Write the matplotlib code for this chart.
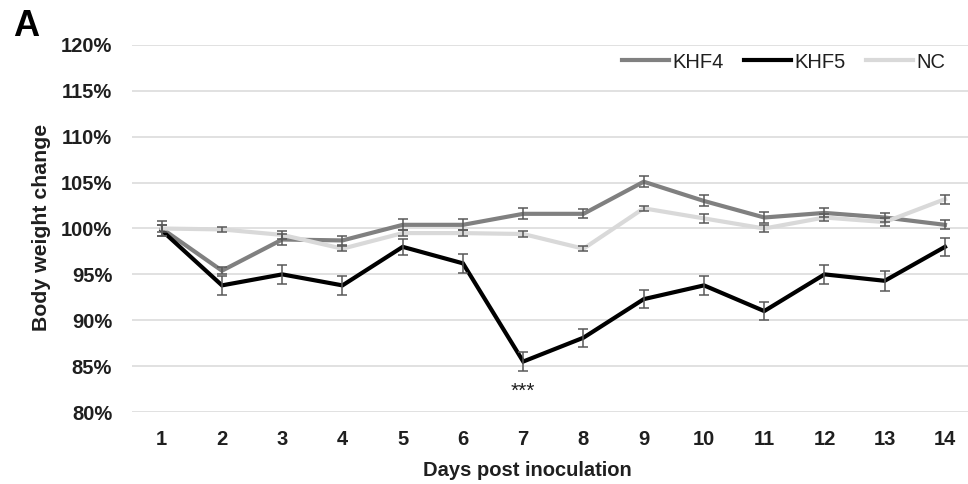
import matplotlib
matplotlib.use("Agg")
import matplotlib.pyplot as plt
import numpy as np

plt.rcParams['font.family'] = ['Liberation Sans', 'DejaVu Sans']

days = list(range(1, 15))
day_labels = [str(d) for d in days]
khf4 = [100.0, 95.4, 98.8, 98.7, 100.4, 100.4, 101.6, 101.6, 105.1, 103.0, 101.2, 101.7, 101.2, 100.4]
khf4_err = [0.8, 0.4, 0.6, 0.5, 0.6, 0.6, 0.6, 0.5, 0.6, 0.6, 0.6, 0.5, 0.5, 0.5]
khf5 = [99.8, 93.8, 95.0, 93.8, 98.0, 96.2, 85.5, 88.1, 92.3, 93.8, 91.0, 95.0, 94.3, 98.0]
khf5_err = [0.6, 1.0, 1.0, 1.0, 0.9, 1.0, 1.0, 1.0, 1.0, 1.0, 1.0, 1.0, 1.1, 1.0]
nc = [100.0, 99.9, 99.3, 97.8, 99.5, 99.5, 99.4, 97.8, 102.2, 101.1, 100.0, 101.2, 100.7, 103.2]
nc_err = [0.4, 0.3, 0.4, 0.3, 0.3, 0.3, 0.3, 0.3, 0.3, 0.5, 0.4, 0.4, 0.4, 0.5]
yticks = [80, 85, 90, 95, 100, 105, 110, 115, 120]
ytick_labels = [f"{v}%" for v in yticks]

W, H = 968, 484
fig = plt.figure(figsize=(W / 100, H / 100), dpi=100)
left, right, top, bottom = 131.6, 975.1, 45, 412
ax = fig.add_axes([left / W, 1 - bottom / H, (right - left) / W, (bottom - top) / H])

grid_c = '#d9d9d9'
for v in yticks:
    ax.axhline(v, color=grid_c, lw=1.1, zorder=0)

series = [
    ("KHF4", khf4, khf4_err, '#808080'),
    ("KHF5", khf5, khf5_err, '#000000'),
    ("NC", nc, nc_err, '#d9d9d9'),
]
for i, (name, vals, err, col) in enumerate(series):
    ax.plot(days, vals, color=col, lw=3.0, label=name, zorder=2 + i,
            solid_joinstyle='miter')
for i, (name, vals, err, col) in enumerate(series):
    ax.errorbar(days, vals, yerr=err, fmt='none', ecolor='#595959',
                elinewidth=1.1, capsize=3.5, capthick=1.1, zorder=6)

ax.set_xlim(0.5, 14.5)
ax.set_ylim(80, 120)
ax.set_xticks(days)
ax.set_xticklabels(day_labels)
ax.set_yticks(yticks)
ax.set_yticklabels(ytick_labels)
for s in ax.spines.values():
    s.set_visible(False)
ax.tick_params(axis='both', length=0, labelsize=14.5, labelcolor='#1f1f1f')
ax.tick_params(axis='y', pad=14)
ax.tick_params(axis='x', pad=13)
for lbl in ax.get_xticklabels() + ax.get_yticklabels():
    lbl.set_fontweight('bold')

ax.text(7, 82.2, "***", ha='center', va='center', fontsize=15, color='#1f1f1f')

leg = ax.legend(loc='center right', bbox_to_anchor=(945 / W, 1 - 62 / H),
                bbox_transform=fig.transFigure, ncol=3, frameon=False,
                fontsize=14.5, handlelength=2.35, handletextpad=0.15,
                columnspacing=1.0, borderaxespad=0, borderpad=0)
for t in leg.get_texts():
    t.set_color('#1f1f1f')

fig.text(26 / W, 1 - 26 / H, "A", fontsize=26, fontweight='bold', ha='center', va='center')
fig.text(42 / W, 1 - 227 / H, "Body weight change", fontsize=15.3, fontweight='bold',
         rotation=90, ha='center', va='center', color='#1f1f1f')
fig.text(527 / W, 1 - 470 / H, "Days post inoculation", fontsize=14.5, fontweight='bold',
         ha='center', va='center', color='#1f1f1f')

fig.savefig("out.png", dpi=100)
